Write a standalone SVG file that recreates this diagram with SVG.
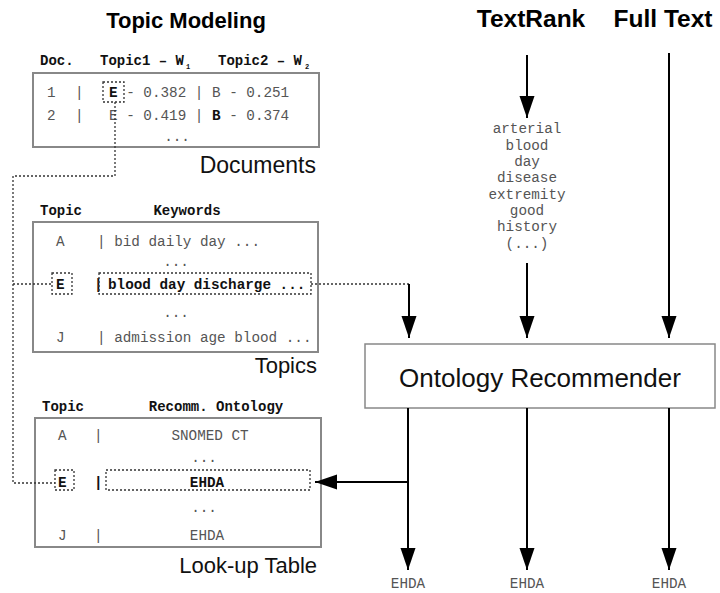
<svg xmlns="http://www.w3.org/2000/svg" width="720" height="593" viewBox="0 0 720 593">
<style>
.mono{font-family:"Liberation Mono","Courier New",monospace;font-size:14.3px;fill:#555}
.b{font-weight:bold;fill:#111}
.hdr{font-family:"Liberation Mono","Courier New",monospace;font-size:14px;font-weight:bold;fill:#111}
.sub{font-family:"Liberation Mono","Courier New",monospace;font-size:7px;font-weight:bold;fill:#111}
.title{font-family:"Liberation Sans",Arial,sans-serif;font-weight:bold;fill:#000}
.label{font-family:"Liberation Sans",Arial,sans-serif;fill:#111}
.box{fill:#fff;stroke:#888;stroke-width:2}
.dot{fill:none;stroke:#333;stroke-width:1.3;stroke-dasharray:2 2}
.arr{fill:none;stroke:#000;stroke-width:2;marker-end:url(#ah)}
.ln{fill:none;stroke:#000;stroke-width:2}
</style>
<defs>
<marker id="ah" markerUnits="userSpaceOnUse" markerWidth="22" markerHeight="16" refX="22" refY="7.5" orient="auto">
<path d="M0,0 L22,7.5 L0,15 z" fill="#000"/>
</marker>
</defs>
<rect width="720" height="593" fill="#fff"/>

<g id="titles">
<text class="title" x="186" y="28" font-size="22" text-anchor="middle">Topic Modeling</text>
<text class="title" x="531" y="27" font-size="24.5" text-anchor="middle">TextRank</text>
<text class="title" x="663" y="27" font-size="24.5" text-anchor="middle">Full Text</text>
</g>

<g id="documents">
<text class="hdr" x="40" y="65">Doc.</text>
<text class="hdr" x="100" y="65">Topic1 – W</text>
<text class="sub" x="186" y="69">1</text>
<text class="hdr" x="218" y="65">Topic2 – W</text>
<text class="sub" x="305" y="69">2</text>
<rect class="box" x="33" y="73" width="286" height="74"/>
<text class="mono" x="47" y="97">1</text>
<text class="mono" x="75" y="97">|</text>
<text class="mono" x="109" y="97" xml:space="preserve"><tspan class="b">E</tspan> - 0.382 | B - 0.251</text>
<text class="mono" x="47" y="120">2</text>
<text class="mono" x="75" y="120">|</text>
<text class="mono" x="109" y="120" xml:space="preserve">E - 0.419 | <tspan class="b">B</tspan> - 0.374</text>
<text class="mono" x="177" y="141" text-anchor="middle">...</text>
<rect class="dot" x="103" y="82" width="21" height="20"/>
<text class="label" x="316" y="173" font-size="23" text-anchor="end">Documents</text>
</g>

<g id="topics">
<text class="hdr" x="40" y="215">Topic</text>
<text class="hdr" x="187" y="215" text-anchor="middle">Keywords</text>
<rect class="box" x="33" y="222" width="285" height="130"/>
<text class="mono" x="56" y="246">A</text>
<text class="mono" x="97" y="246">| bid daily day ...</text>
<text class="mono" x="176" y="266" text-anchor="middle">...</text>
<text class="mono b" x="56" y="289">E</text>
<text class="mono b" x="94" y="289">|</text>
<text class="mono b" x="108" y="289">blood day discharge ...</text>
<text class="mono" x="176" y="317" text-anchor="middle">...</text>
<text class="mono" x="56" y="342">J</text>
<text class="mono" x="97" y="342">| admission age blood ...</text>
<rect class="dot" x="52" y="273" width="20" height="21"/>
<rect class="dot" x="99" y="273" width="212" height="21"/>
<text class="label" x="317" y="373" font-size="22" text-anchor="end">Topics</text>
</g>

<g id="lookup">
<text class="hdr" x="42" y="411">Topic</text>
<text class="hdr" x="216" y="411" text-anchor="middle">Recomm. Ontology</text>
<rect class="box" x="35" y="418" width="286" height="129"/>
<text class="mono" x="58" y="440">A</text>
<text class="mono" x="94" y="440">|</text>
<text class="mono" x="210" y="440" text-anchor="middle">SNOMED CT</text>
<text class="mono" x="204" y="462" text-anchor="middle">...</text>
<text class="mono b" x="58" y="487">E</text>
<text class="mono b" x="94" y="487">|</text>
<text class="mono b" x="207" y="487" text-anchor="middle">EHDA</text>
<text class="mono" x="204" y="512" text-anchor="middle">...</text>
<text class="mono" x="58" y="540">J</text>
<text class="mono" x="94" y="540">|</text>
<text class="mono" x="207" y="540" text-anchor="middle">EHDA</text>
<rect class="dot" x="55" y="470" width="19" height="20"/>
<rect class="dot" x="106" y="470" width="204" height="20"/>
<text class="label" x="317" y="573" font-size="22" text-anchor="end">Look-up Table</text>
</g>

<g id="textrank-words">
<text class="mono" x="527" y="133" text-anchor="middle">arterial</text>
<text class="mono" x="527" y="149.5" text-anchor="middle">blood</text>
<text class="mono" x="527" y="166" text-anchor="middle">day</text>
<text class="mono" x="527" y="182" text-anchor="middle">disease</text>
<text class="mono" x="527" y="198.5" text-anchor="middle">extremity</text>
<text class="mono" x="527" y="215" text-anchor="middle">good</text>
<text class="mono" x="527" y="231" text-anchor="middle">history</text>
<text class="mono" x="527" y="247.5" text-anchor="middle">(...)</text>
</g>

<g id="recommender">
<rect x="365" y="344" width="350" height="64" fill="#fff" stroke="#888" stroke-width="1.5"/>
<text class="label" x="540" y="387" font-size="26" text-anchor="middle">Ontology Recommender</text>
</g>

<g id="outputs">
<text class="mono" x="408" y="588" text-anchor="middle" font-size="13">EHDA</text>
<text class="mono" x="527" y="588" text-anchor="middle" font-size="13">EHDA</text>
<text class="mono" x="669" y="588" text-anchor="middle" font-size="13">EHDA</text>
</g>

<g id="connectors">
<polyline class="dot" points="115,102 115,176 13,176 13,483 55,483"/>
<line class="dot" x1="13" y1="284" x2="52" y2="284"/>
<polyline class="dot" points="311,284 409,284"/>
<line class="arr" x1="409" y1="284" x2="409" y2="338"/>
<line class="arr" x1="527" y1="55" x2="527" y2="118"/>
<line class="arr" x1="527" y1="263" x2="527" y2="338"/>
<line class="arr" x1="669" y1="53" x2="669" y2="338"/>
<line class="arr" x1="408" y1="408" x2="408" y2="570"/>
<line class="arr" x1="527" y1="408" x2="527" y2="570"/>
<line class="arr" x1="669" y1="408" x2="669" y2="570"/>
<line class="arr" x1="408" y1="482" x2="315" y2="482"/>
</g>
</svg>
